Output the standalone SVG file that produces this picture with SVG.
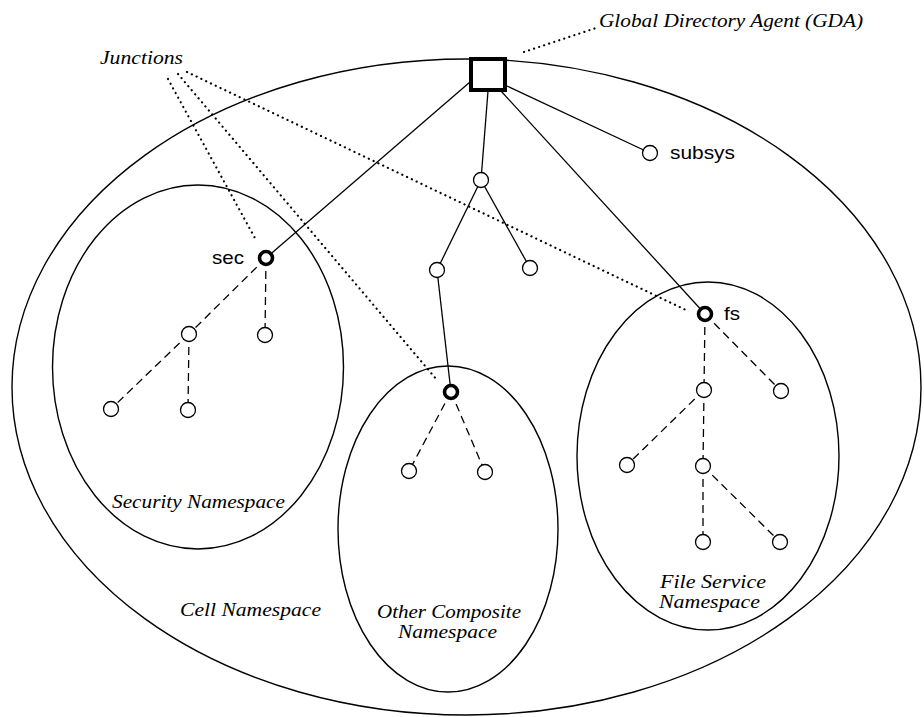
<svg xmlns="http://www.w3.org/2000/svg" width="924" height="717" viewBox="0 0 924 717">
<style>
.bg{fill:#fff}
.ell{fill:none;stroke:#000;stroke-width:1.4}
.solid{fill:none;stroke:#000;stroke-width:1.3}
.dash{fill:none;stroke:#000;stroke-width:1.3;stroke-dasharray:8 5}
.dot{fill:none;stroke:#000;stroke-width:2.2;stroke-dasharray:0.1 5.2;stroke-linecap:round}
.node{fill:#fff;stroke:#000;stroke-width:1.3}
.junc{fill:#fff;stroke:#000;stroke-width:3.6}
.gda{fill:#fff;stroke:#000;stroke-width:4}
.it{font-family:"Liberation Serif","Times New Roman",serif;font-style:italic;font-size:19px;fill:#000}
.sans{font-family:"Liberation Sans",Arial,sans-serif;font-size:19px;fill:#000}
</style>
<rect class="bg" x="0" y="0" width="924" height="717"/>

<g id="cell-namespace">
  <ellipse class="ell" cx="466.5" cy="387" rx="454.5" ry="328"/>
  <text class="it" x="180" y="616" textLength="141" lengthAdjust="spacingAndGlyphs">Cell Namespace</text>
</g>
<g id="security-namespace">
  <ellipse class="ell" cx="198" cy="367" rx="145.5" ry="182"/>
  <text class="it" x="112" y="508" textLength="173" lengthAdjust="spacingAndGlyphs">Security Namespace</text>
</g>
<g id="other-composite-namespace">
  <ellipse class="ell" cx="448" cy="529" rx="110" ry="163"/>
  <text class="it" x="377" y="618" textLength="144" lengthAdjust="spacingAndGlyphs">Other Composite</text>
  <text class="it" x="398" y="638" textLength="99" lengthAdjust="spacingAndGlyphs">Namespace</text>
</g>
<g id="file-service-namespace">
  <ellipse class="ell" cx="708" cy="456" rx="131" ry="174"/>
  <text class="it" x="660" y="588" textLength="106" lengthAdjust="spacingAndGlyphs">File Service</text>
  <text class="it" x="659" y="608" textLength="101" lengthAdjust="spacingAndGlyphs">Namespace</text>
</g>

<g id="connectors">
  <!-- solid tree edges from GDA -->
  <line class="solid" x1="470" y1="82" x2="266" y2="258"/>
  <line class="solid" x1="488" y1="91" x2="481" y2="180"/>
  <line class="solid" x1="501" y1="91" x2="705" y2="314"/>
  <line class="solid" x1="507" y1="86" x2="650" y2="153"/>
  <line class="solid" x1="481" y1="180" x2="437" y2="270"/>
  <line class="solid" x1="481" y1="180" x2="530" y2="268"/>
  <line class="solid" x1="437" y1="270" x2="451" y2="392"/>
  <!-- dashed sub-namespace edges -->
  <line class="dash" x1="266" y1="258" x2="189" y2="334"/>
  <line class="dash" x1="189" y1="334" x2="111" y2="409"/>
  <line class="dash" x1="266" y1="258" x2="265" y2="335"/>
  <line class="dash" x1="189" y1="334" x2="188" y2="410"/>
  <line class="dash" x1="451" y1="392" x2="409" y2="471"/>
  <line class="dash" x1="451" y1="392" x2="485" y2="472"/>
  <line class="dash" x1="705" y1="314" x2="704" y2="390"/>
  <line class="dash" x1="705" y1="314" x2="781" y2="391"/>
  <line class="dash" x1="704" y1="390" x2="627" y2="465"/>
  <line class="dash" x1="704" y1="390" x2="703" y2="466"/>
  <line class="dash" x1="703" y1="466" x2="703" y2="542"/>
  <line class="dash" x1="703" y1="466" x2="780" y2="542"/>
  <!-- dotted annotation leaders -->
  <line class="dot" x1="524" y1="52" x2="596" y2="28"/>
  <line class="dot" x1="168" y1="79" x2="256" y2="240"/>
  <line class="dot" x1="178" y1="74" x2="437" y2="380"/>
  <line class="dot" x1="187" y1="72" x2="688" y2="311"/>
</g>

<g id="gda">
  <rect class="gda" x="471" y="59" width="34" height="31"/>
  <text class="it" x="599" y="27" textLength="264" lengthAdjust="spacingAndGlyphs">Global Directory Agent (GDA)</text>
</g>
<g id="junctions-label">
  <text class="it" x="100" y="64" textLength="83" lengthAdjust="spacingAndGlyphs">Junctions</text>
</g>

<g id="subsys"><circle class="node" cx="650" cy="153" r="7.5"/><text class="sans" x="670" y="159" textLength="65" lengthAdjust="spacingAndGlyphs">subsys</text></g>
<g id="n-center"><circle class="node" cx="481" cy="180" r="7.5"/></g>
<g id="n-center-left"><circle class="node" cx="437" cy="270" r="7.5"/></g>
<g id="n-center-right"><circle class="node" cx="530" cy="268" r="7.5"/></g>

<g id="sec"><circle class="junc" cx="266" cy="258" r="6.5"/><text class="sans" x="212" y="264" textLength="32" lengthAdjust="spacingAndGlyphs">sec</text></g>
<g id="sec-a"><circle class="node" cx="189" cy="334" r="7.5"/></g>
<g id="sec-b"><circle class="node" cx="265" cy="335" r="7.5"/></g>
<g id="sec-a1"><circle class="node" cx="111" cy="409" r="7.5"/></g>
<g id="sec-a2"><circle class="node" cx="188" cy="410" r="7.5"/></g>

<g id="other-junction"><circle class="junc" cx="451" cy="392" r="6.5"/></g>
<g id="other-a"><circle class="node" cx="409" cy="471" r="7.5"/></g>
<g id="other-b"><circle class="node" cx="485" cy="472" r="7.5"/></g>

<g id="fs"><circle class="junc" cx="705" cy="314" r="6.5"/><text class="sans" x="724" y="320" textLength="16" lengthAdjust="spacingAndGlyphs">fs</text></g>
<g id="fs-a"><circle class="node" cx="704" cy="390" r="7.5"/></g>
<g id="fs-b"><circle class="node" cx="781" cy="391" r="7.5"/></g>
<g id="fs-a1"><circle class="node" cx="627" cy="465" r="7.5"/></g>
<g id="fs-a2"><circle class="node" cx="703" cy="466" r="7.5"/></g>
<g id="fs-a2a"><circle class="node" cx="703" cy="542" r="7.5"/></g>
<g id="fs-a2b"><circle class="node" cx="780" cy="542" r="7.5"/></g>
</svg>
